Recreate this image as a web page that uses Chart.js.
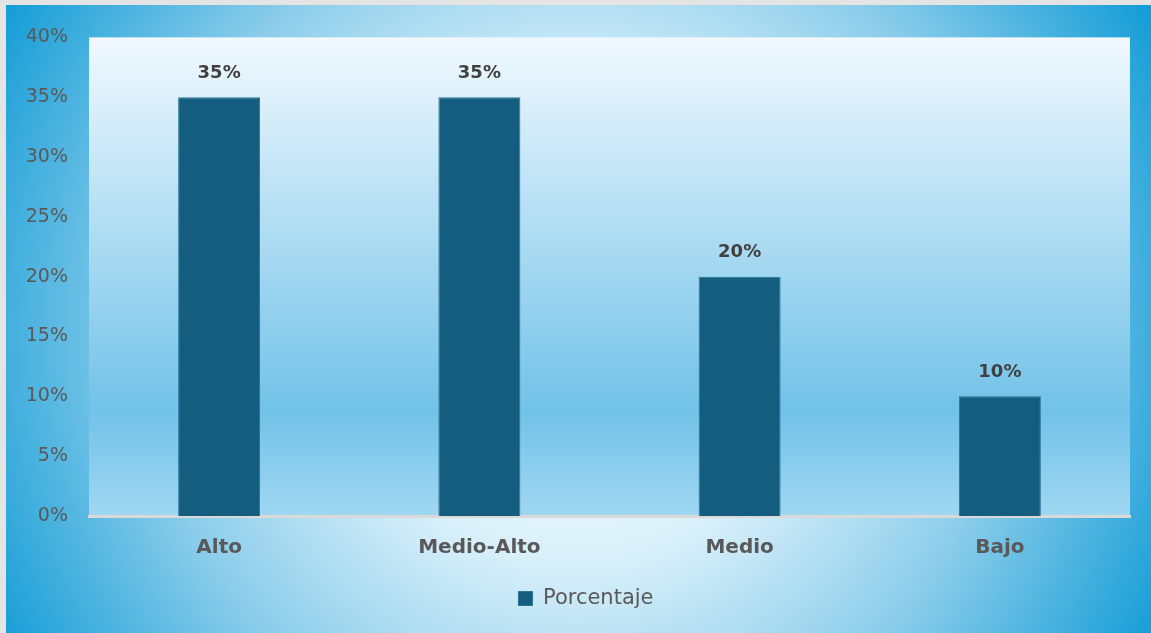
<!DOCTYPE html>
<html>
<head>
<meta charset="utf-8">
<script src="https://cdn.jsdelivr.net/npm/chart.js@4.4.1/dist/chart.umd.min.js"></script>
<style>
  html, body { margin: 0; padding: 0; background: #e4e4e4; overflow: hidden; }
  #wrap { position: absolute; left: 6px; top: 5px; width: 1145px; height: 628px; }
</style>
</head>
<body>
<div id="wrap"><canvas id="chart"></canvas></div>
<script>
// datos del grafico
const categorias = ['Alto', 'Medio-Alto', 'Medio', 'Bajo'];
const porcentajes = [35, 35, 20, 10];
const nombreSerie = 'Porcentaje';

const colorBarra = '#155d7f';
const colorTexto = '#595959';
const fuente = '"DejaVu Sans", Verdana, sans-serif';

// fondo exterior (degradado radial) y fondo del area de trazado
const fondoPlugin = {
    id: 'fondo',
    afterLayout(chart) {
        // la leyenda va un poco a la derecha, como en el original
        if (chart.legend) {
            chart.legend.left += 18;
            chart.legend.right += 18;
        }
    },
    beforeDraw(chart) {
        const ctx = chart.ctx;
        const w = chart.width, h = chart.height;
        ctx.save();
        const rg = ctx.createRadialGradient(570, 325, 0, 570, 325, 660);
        rg.addColorStop(0, '#ffffff');
        rg.addColorStop(0.35, '#d9f0fa');
        rg.addColorStop(0.65, '#8ccdea');
        rg.addColorStop(1, '#129cd6');
        ctx.fillStyle = rg;
        ctx.fillRect(0, 0, w, h);

        const a = chart.chartArea;
        const lg = ctx.createLinearGradient(0, a.top, 0, a.bottom);
        lg.addColorStop(0, '#f1f9fe');
        lg.addColorStop(0.78, '#72c2e8');
        lg.addColorStop(1, '#a0d7f1');
        ctx.fillStyle = lg;
        ctx.fillRect(a.left, a.top, a.right - a.left, a.bottom - a.top);
        ctx.restore();
    }
};

// etiquetas encima de las barras
const etiquetasPlugin = {
    id: 'etiquetas',
    afterDatasetsDraw(chart) {
        const ctx = chart.ctx;
        const meta = chart.getDatasetMeta(0);
        ctx.save();
        ctx.font = 'bold 18px ' + fuente;
        ctx.fillStyle = '#404040';
        ctx.textAlign = 'center';
        ctx.textBaseline = 'middle';
        meta.data.forEach((bar, i) => {
            ctx.fillText(porcentajes[i] + '%', bar.x, bar.y - 24);
        });
        ctx.restore();
    }
};

new Chart(document.getElementById('chart'), {
    type: 'bar',
    data: {
        labels: categorias,
        datasets: [{
            label: nombreSerie,
            data: porcentajes,
            backgroundColor: colorBarra,
            borderColor: '#2a7397',
            borderWidth: 1,
            barPercentage: 0.63,
            categoryPercentage: 0.5
        }]
    },
    options: {
        responsive: true,
        maintainAspectRatio: false,
        animation: false,
        layout: { autoPadding: false, padding: { top: 29, right: 21, bottom: 14, left: 0 } },
        scales: {
            y: {
                min: 0,
                max: 40,
                ticks: {
                    stepSize: 5,
                    padding: 21,
                    color: colorTexto,
                    font: { family: fuente, size: 19 },
                    callback: v => v + '%'
                },
                grid: { display: false, drawTicks: false },
                border: { display: false },
                afterFit(scale) { scale.width = 83; }
            },
            x: {
                ticks: {
                    padding: 20,
                    color: colorTexto,
                    font: { family: fuente, size: 20, weight: 'bold' }
                },
                grid: { display: false, drawTicks: false },
                border: { display: true, color: '#d9d9d9', width: 3 },
                afterFit(scale) { scale.height = 62; }
            }
        },
        plugins: {
            legend: {
                position: 'bottom',
                labels: {
                    boxWidth: 14,
                    boxHeight: 14,
                    padding: 10,
                    color: colorTexto,
                    font: { family: fuente, size: 21 }
                }
            },
            tooltip: { enabled: false }
        }
    },
    plugins: [fondoPlugin, etiquetasPlugin]
});
</script>
</body>
</html>
